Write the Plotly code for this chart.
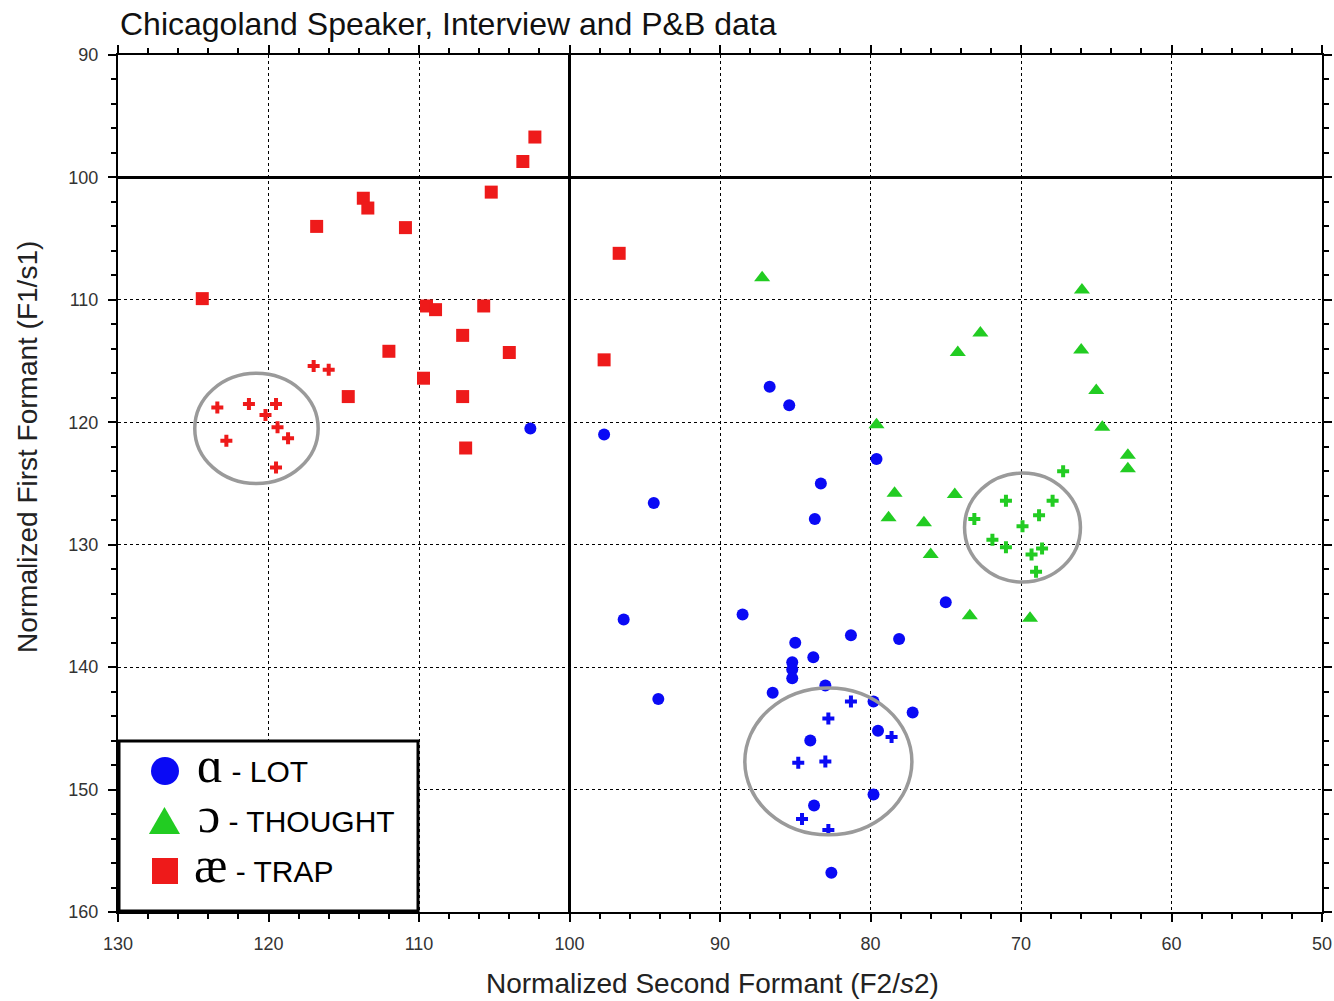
import plotly.graph_objects as go

# ---------------- data ----------------
trap_f2 = [102.3, 103.1, 105.2, 113.7, 113.4, 116.8, 110.9, 96.7, 124.4, 109.5,
           108.9, 105.7, 107.1, 112.0, 104.0, 97.7, 109.7, 114.7, 107.1, 106.9]
trap_f1 = [96.7, 98.7, 101.2, 101.7, 102.5, 104.0, 104.1, 106.2, 109.9, 110.5,
           110.8, 110.5, 112.9, 114.2, 114.3, 114.9, 116.4, 117.9, 117.9, 122.1]

trap_pb_f2 = [117.0, 116.0, 123.4, 121.3, 119.5, 120.2, 119.4, 118.7, 122.8, 119.5]
trap_pb_f1 = [115.4, 115.7, 118.8, 118.5, 118.5, 119.4, 120.4, 121.3, 121.5, 123.7]

lot_f2 = [102.6, 97.7, 86.7, 85.4, 79.6, 83.3, 83.7, 94.4, 96.4, 88.5,
          75.0, 81.3, 78.1, 85.0, 83.8, 85.2, 85.2, 85.2, 94.1, 86.5,
          83.0, 79.8, 77.2, 79.5, 84.0, 83.75, 79.8, 82.6]
lot_f1 = [120.5, 121.0, 117.1, 118.6, 123.0, 125.0, 127.9, 126.6, 136.1, 135.7,
          134.7, 137.4, 137.7, 138.0, 139.2, 139.6, 140.2, 140.9, 142.6, 142.1,
          141.5, 142.8, 143.7, 145.2, 146.0, 151.3, 150.4, 156.8]

lot_pb_f2 = [81.3, 82.8, 78.6, 84.8, 83.0, 84.55, 82.8]
lot_pb_f1 = [142.8, 144.2, 145.7, 147.8, 147.7, 152.4, 153.3]

thought_f2 = [87.2, 65.95, 72.7, 74.2, 66.0, 65.0, 79.6, 64.6, 62.9, 62.9,
              78.4, 74.4, 78.8, 76.45, 76.0, 73.4, 69.4]
thought_f1 = [108.2, 109.2, 112.7, 114.3, 114.1, 117.4, 120.2, 120.4, 122.7, 123.8,
              125.8, 125.9, 127.8, 128.2, 130.8, 135.8, 136.0]

thought_pb_f2 = [67.2, 71.0, 67.9, 73.1, 68.8, 69.9, 71.9, 71.0, 68.6, 69.3, 69.0]
thought_pb_f1 = [124.0, 126.4, 126.4, 127.9, 127.6, 128.5, 129.6, 130.2, 130.3, 130.8, 132.2]

# P&B cluster ellipses: (centre F2, centre F1, radius F2, radius F1)
clusters_f2 = [120.8, 82.8, 69.9]
clusters_f1 = [120.5, 147.7, 128.6]
clusters_rx = [4.1, 5.55, 3.85]
clusters_ry = [4.5, 6.0, 4.45]

x_ticks = [130, 120, 110, 100, 90, 80, 70, 60, 50]
y_ticks = [90, 100, 110, 120, 130, 140, 150, 160]

legend_labels = [("ɑ", "- LOT"), ("ɔ", "- THOUGHT"), ("æ", "- TRAP")]

BLUE = "#0a0af5"
GREEN = "#22cc22"
RED = "#ee1a1a"

# ---------------- layout geometry (pixels) ----------------
W, H = 1334, 1001
PLOT_L, PLOT_R, PLOT_T, PLOT_B = 118, 1322, 55, 912
L, T, R, B = PLOT_L, PLOT_T, W - PLOT_R, H - PLOT_B
PW, PH = PLOT_R - PLOT_L, PLOT_B - PLOT_T


def px(xp):
    return (xp - PLOT_L) / PW


def py(yp):
    return (PLOT_B - yp) / PH


fig = go.Figure()

fig.add_trace(go.Scatter(x=trap_f2, y=trap_f1, mode="markers", name="TRAP",
                         marker=dict(symbol="square", size=13, color=RED)))
fig.add_trace(go.Scatter(x=trap_pb_f2, y=trap_pb_f1, mode="markers", name="TRAP P&B",
                         marker=dict(symbol="cross", size=10, color=RED)))
fig.add_trace(go.Scatter(x=lot_f2, y=lot_f1, mode="markers", name="LOT",
                         marker=dict(symbol="circle", size=12, color=BLUE)))
fig.add_trace(go.Scatter(x=lot_pb_f2, y=lot_pb_f1, mode="markers", name="LOT P&B",
                         marker=dict(symbol="cross", size=10, color=BLUE)))
fig.add_trace(go.Scatter(x=thought_f2, y=thought_f1, mode="markers", name="THOUGHT",
                         marker=dict(symbol="triangle-up", size=14, color=GREEN)))
fig.add_trace(go.Scatter(x=thought_pb_f2, y=thought_pb_f1, mode="markers", name="THOUGHT P&B",
                         marker=dict(symbol="cross", size=10, color=GREEN)))

shapes = []
# cluster ellipses
for cx, cy, rx, ry in zip(clusters_f2, clusters_f1, clusters_rx, clusters_ry):
    shapes.append(dict(type="circle", xref="x", yref="y",
                       x0=cx - rx, x1=cx + rx, y0=cy - ry, y1=cy + ry,
                       line=dict(color="#9a9a9a", width=3.5), layer="above"))
# thick reference lines at 100
shapes.append(dict(type="line", xref="x", yref="paper", x0=100, x1=100, y0=0, y1=1,
                   line=dict(color="black", width=3)))
shapes.append(dict(type="line", xref="paper", yref="y", x0=0, x1=1, y0=100, y1=100,
                   line=dict(color="black", width=3)))

# custom legend box
shapes.append(dict(type="rect", xref="paper", yref="paper",
                   x0=px(119), x1=px(418), y0=py(911), y1=py(741),
                   fillcolor="white", line=dict(color="black", width=3), layer="above"))
# legend symbols
r = 14
shapes.append(dict(type="circle", xref="paper", yref="paper",
                   x0=px(165 - r), x1=px(165 + r), y0=py(771 + r), y1=py(771 - r),
                   fillcolor=BLUE, line=dict(color=BLUE, width=0), layer="above"))
tri = "M {:.4f} {:.4f} L {:.4f} {:.4f} L {:.4f} {:.4f} Z".format(
    px(149), py(834), px(180), py(834), px(164.5), py(807))
shapes.append(dict(type="path", xref="paper", yref="paper", path=tri,
                   fillcolor=GREEN, line=dict(color=GREEN, width=0), layer="above"))
shapes.append(dict(type="rect", xref="paper", yref="paper",
                   x0=px(152), x1=px(178), y0=py(884), y1=py(858),
                   fillcolor=RED, line=dict(color=RED, width=0), layer="above"))

annotations = []
rows_y = [771, 821, 871]
ipa_x = [195, 196, 192]
for (ipa, lab), yy, ix in zip(legend_labels, rows_y, ipa_x):
    txt = ("<span style='font-family:Liberation Serif, DejaVu Serif, serif;font-size:50px'>"
           + ipa + "</span> " + lab)
    annotations.append(dict(xref="paper", yref="paper", x=px(ix), y=py(yy - 6),
                            text=txt, showarrow=False, xanchor="left", yanchor="middle",
                            font=dict(family="Liberation Sans, Arial, sans-serif",
                                      size=30, color="black")))

# axis titles
annotations.append(dict(xref="paper", yref="paper", x=px(712), y=py(983),
                        text="Normalized Second Formant (F2/<i>s</i>2)", showarrow=False,
                        xanchor="center", yanchor="middle",
                        font=dict(family="Liberation Sans, Arial, sans-serif", size=28, color="#222")))
annotations.append(dict(xref="paper", yref="paper", x=px(27), y=py(447),
                        text="Normalized First Formant (F1/s1)", showarrow=False, textangle=-90,
                        xanchor="center", yanchor="middle",
                        font=dict(family="Liberation Sans, Arial, sans-serif", size=28, color="#222")))

axis_common = dict(
    showline=True, linecolor="black", linewidth=2, mirror="ticks",
    ticks="outside", ticklen=8, tickwidth=2, tickcolor="black",
    showgrid=True, gridcolor="black", gridwidth=1, griddash="dot",
    zeroline=False, ticklabelstandoff=6, automargin=False,
    tickfont=dict(family="Liberation Sans, Arial, sans-serif", size=18, color="#333"),
)

fig.update_layout(
    width=W, height=H,
    margin=dict(l=L, r=R, t=T, b=B, autoexpand=False),
    paper_bgcolor="white", plot_bgcolor="white",
    showlegend=False,
    title=dict(text="Chicagoland Speaker, Interview and P&B data",
               x=px(120), xanchor="left", xref="paper",
               y=1 - 24 / H, yanchor="middle", yref="container",
               font=dict(family="Liberation Sans, Arial, sans-serif", size=32, color="#111")),
    xaxis=dict(range=[130, 50], tickvals=x_ticks, ticktext=[str(v) for v in x_ticks],
               minor=dict(dtick=2, ticks="outside", ticklen=5, tickwidth=1.5,
                          tickcolor="black", showgrid=False),
               **axis_common),
    yaxis=dict(range=[160, 90], tickvals=y_ticks, ticktext=[str(v) for v in y_ticks],
               minor=dict(dtick=2, ticks="outside", ticklen=5, tickwidth=1.5,
                          tickcolor="black", showgrid=False),
               **axis_common),
    shapes=shapes,
    annotations=annotations,
)

fig.write_html("out.html", config={"displayModeBar": False},
               post_script="document.body.style.margin='0px';")
